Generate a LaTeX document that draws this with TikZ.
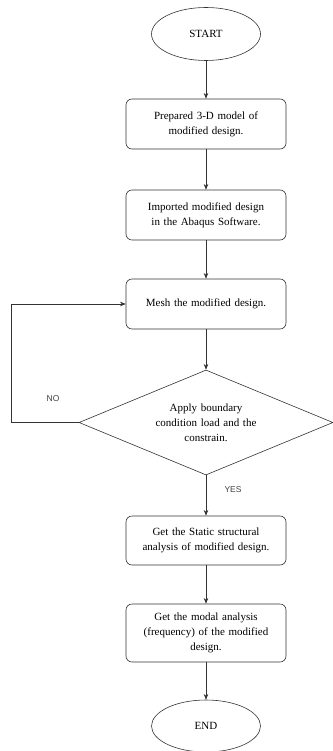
\documentclass[tikz,border=0pt]{standalone}
\usepackage{fontspec}
\setmainfont{Liberation Serif}
\newfontfamily\tagfont{Liberation Sans}
\usetikzlibrary{arrows.meta,shapes.geometric}

\begin{document}
\begin{tikzpicture}[x=1pt,y=-1pt,>={Stealth[length=2mm,width=1.6mm]},line cap=round,line width=0.6pt,
  flow/.style={->,draw=black!80},
  terminal/.style={ellipse,draw=black!80,minimum width=109pt,minimum height=53pt,inner sep=0pt,font=\fontsize{11}{15}\selectfont},
  stepbox/.style={rectangle,rounded corners=6pt,draw=black!80,minimum width=160pt,text width=150pt,align=center,inner sep=0pt,font=\fontsize{11}{15}\selectfont},
  decision/.style={diamond,draw=black!80,minimum width=254pt,minimum height=105pt,aspect=2.42,inner sep=0pt,text width=118pt,align=center,font=\fontsize{11}{15}\selectfont},
  answer/.style={font=\tagfont\fontsize{8.5}{10}\selectfont,text=black!75}]
\useasboundingbox (0,0) rectangle (332,751);
\node[terminal] (start) at (206,34) {START};
\node[stepbox,minimum height=50pt] (prep) at (206,124) {Prepared 3-D model of\\modified design.};
\node[stepbox,minimum height=50pt] (import) at (206,215) {Imported modified design\\in the Abaqus Software.};
\node[stepbox,minimum height=50pt] (mesh) at (206,304) {Mesh the modified design.};
\node[decision] (apply) at (206,422.5) {Apply boundary\\condition load and the\\constrain.};
\node[stepbox,minimum height=49pt] (static) at (206,540.5) {Get the Static structural\\analysis of modified design.};
\node[stepbox,minimum height=58pt] (modal) at (206,633) {Get the modal analysis\\(frequency) of the modified\\design.};
\node[terminal,minimum height=52pt] (end) at (206,726) {END};
\draw[flow] (start) -- (prep);
\draw[flow] (prep) -- (import);
\draw[flow] (import) -- (mesh);
\draw[flow] (mesh) -- (apply);
\draw[flow] (apply) -- (static);
\draw[flow] (static) -- (modal);
\draw[flow] (modal) -- (end);
\draw[flow] (apply.west) -- ++(-67,0) coordinate (back) |- (mesh.west);
\node[answer] (no) at (53,399) {NO};
\node[answer] (yes) at (233,490) {YES};
\end{tikzpicture}
\end{document}
